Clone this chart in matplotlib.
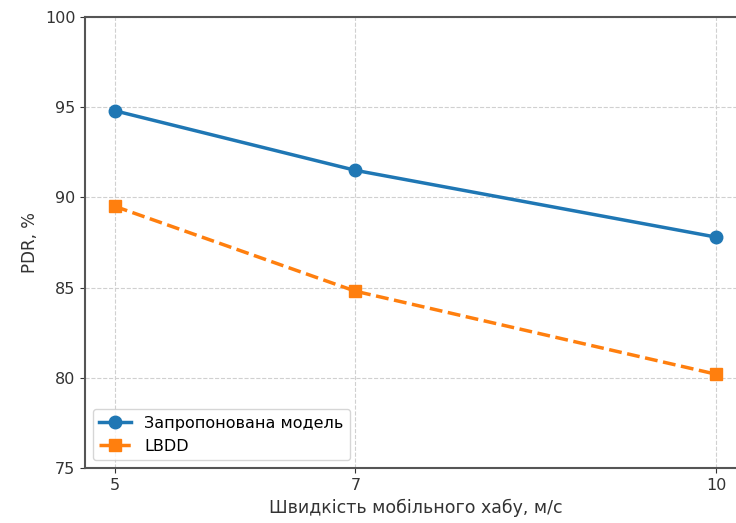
import numpy as np
import matplotlib.pyplot as plt

speeds = [5, 7, 10]
pdr_model = [94.8, 91.5, 87.8]
pdr_lbdd = [89.5, 84.8, 80.2]

fig = plt.figure(figsize=(7.36, 5.23), dpi=100)
ax = fig.add_axes([85 / 736, 55 / 523, 661 / 736, 451 / 523])

ax.plot(speeds, pdr_model, '-o', color='#1f77b4', lw=2.5, ms=9,
        label='Запропонована модель')
ax.plot(speeds, pdr_lbdd, '--s', color='#ff7f0e', lw=2.5, ms=9,
        label='LBDD')

ax.set_xlim(4.75, 10.25)
ax.set_ylim(75, 100)
ax.set_xticks(speeds)
ax.set_yticks(np.arange(75, 101, 5))
ax.grid(True, linestyle='--', color='#d0d0d0', linewidth=0.8)
ax.tick_params(labelsize=11.5, colors='#333333')
for s in ax.spines.values():
    s.set_color('#555555')
    s.set_linewidth(1.5)

ax.set_xlabel('Швидкість мобільного хабу, м/с', fontsize=12.5, color='#333333')
ax.set_ylabel('PDR, %', fontsize=12, color='#333333')
ax.legend(loc='lower left', fontsize=11.5)

fig.savefig('out.png', dpi=100)
